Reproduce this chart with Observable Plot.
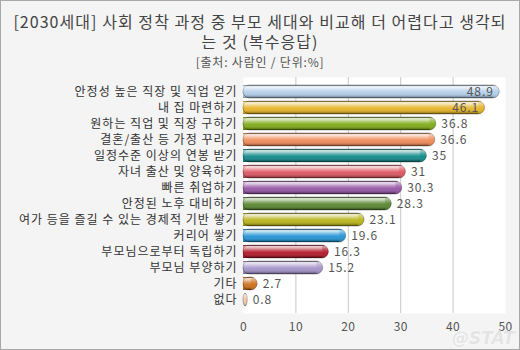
<!DOCTYPE html>
<html><head><meta charset="utf-8">
<script src="https://cdn.jsdelivr.net/npm/d3@7"></script>
<script src="https://cdn.jsdelivr.net/npm/@observablehq/plot@0.6"></script>
<style>
body{margin:0;background:#fff;}
#wrap{position:relative;width:520px;height:350px;background:#f4f4f4;font-family:"Noto Sans CJK KR","Noto Sans",sans-serif;overflow:hidden;}
#border{position:absolute;left:0;top:0;width:520px;height:350px;box-sizing:border-box;border:1px solid #a8a8a8;pointer-events:none;}
.t{position:absolute;left:0;width:520px;text-align:center;font-size:16px;line-height:16px;height:16px;color:#444;white-space:nowrap;letter-spacing:1.05px;}
#t1{top:12.5px;}
#t2{top:32.5px;}
#sub{position:absolute;top:54.5px;left:0;width:520px;text-align:center;font-size:12px;line-height:13px;color:#555;letter-spacing:0.8px;}
#chart{position:absolute;top:68px;left:0;}
#chart svg text{letter-spacing:0.4px;}
#chart svg g[aria-label="y-axis tick label"] text{letter-spacing:1px;}
#chart svg g[aria-label="text"] text{letter-spacing:0.9px;}
#wm{position:absolute;left:452px;top:328px;font-family:"DejaVu Sans",sans-serif;font-weight:bold;font-style:italic;font-size:17px;color:#e4e4e4;text-shadow:0 0 2px #fff;}
</style></head>
<body>
<div id="wrap">
<svg width="0" height="0" style="position:absolute">
<defs>
<linearGradient id="gloss" x1="0" y1="0" x2="0" y2="1">
<stop offset="0" stop-color="#000" stop-opacity="0.25"/>
<stop offset="0.12" stop-color="#fff" stop-opacity="0.55"/>
<stop offset="0.4" stop-color="#fff" stop-opacity="0.15"/>
<stop offset="0.6" stop-color="#fff" stop-opacity="0"/>
<stop offset="0.88" stop-color="#000" stop-opacity="0.12"/>
<stop offset="1" stop-color="#000" stop-opacity="0.35"/>
</linearGradient>
</defs>
</svg>
<div class="t" id="t1">[2030세대] 사회 정착 과정 중 부모 세대와 비교해 더 어렵다고 생각되</div>
<div class="t" id="t2">는 것 (복수응답)</div>
<div id="sub">[출처: 사람인 / 단위:%]</div>
<div id="chart"></div>
<div id="wm">@STAT</div>
<div id="border"></div>
</div>
<script>
const categories = ["안정성 높은 직장 및 직업 얻기","내 집 마련하기","원하는 직업 및 직장 구하기","결혼/출산 등 가정 꾸리기","일정수준 이상의 연봉 받기","자녀 출산 및 양육하기","빠른 취업하기","안정된 노후 대비하기","여가 등을 즐길 수 있는 경제적 기반 쌓기","커리어 쌓기","부모님으로부터 독립하기","부모님 부양하기","기타","없다"];
const values = [48.9,46.1,36.8,36.6,35,31,30.3,28.3,23.1,19.6,16.3,15.2,2.7,0.8];
const xTicks = [0,10,20,30,40,50];
const palette = ["#b4cfea","#e6b52c","#82ad1e","#f08e5c","#178d8d","#dc5a64","#985aa6","#5c8a36","#b9b51e","#2896d6","#b41f2e","#a696ca","#cf7424","#f3c6a6"];

const data = categories.map((c,i)=>({cat:c, v:values[i]}));
const font = '"Noto Sans CJK KR","Noto Sans",sans-serif';

const chart = Plot.plot({
  width:520, height:282,
  marginLeft:243, marginRight:15, marginTop:9, marginBottom:37,
  style:{fontFamily:font, fontSize:"12px", background:"transparent", overflow:"visible"},
  x:{domain:[0,50], ticks:xTicks, tickSize:0, tickPadding:9, label:null, tickFormat:d=>d},
  y:{domain:categories, padding:0.2, tickSize:0, tickPadding:7, label:null},
  color:{domain:categories, range:palette},
  marks:[
    Plot.frame({fill:"#fff", stroke:"none"}),
    Plot.ruleX([10,20,30,40], {stroke:"#c8c8c8"}),
    Plot.barX(data, {y:"cat", x1:0, x2:d=>Math.max(0, d.v-1.2), fill:"cat"}),
    Plot.barX(data, {y:"cat", x:"v", fill:"cat", rx:6.5, stroke:"#000", strokeOpacity:0.28}),
    Plot.barX(data, {y:"cat", x1:0, x2:d=>Math.max(0, d.v-1.2), fill:"url(#gloss)"}),
    Plot.barX(data, {y:"cat", x:"v", fill:"url(#gloss)", rx:6.5}),
    Plot.text(data.filter(d=>d.v>45), {y:"cat", x:"v", text:d=>String(d.v), textAnchor:"end", dx:-6, fill:"#555", fontSize:12}),
    Plot.text(data.filter(d=>d.v<=45), {y:"cat", x:"v", text:d=>String(d.v), textAnchor:"start", dx:5, fill:"#555", fontSize:12}),
    Plot.axisY({tickSize:0, tickPadding:6, fill:"#333", fontSize:12}),
    Plot.axisX({ticks:xTicks, tickSize:0, tickPadding:9, fill:"#555", fontSize:12, tickFormat:d=>d})
  ]
});
document.getElementById("chart").appendChild(chart);
</script>
</body></html>
